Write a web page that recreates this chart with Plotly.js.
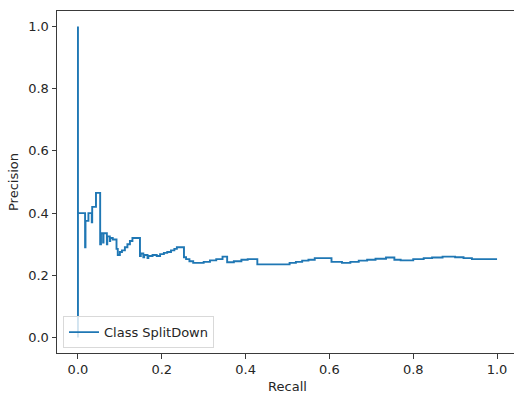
<!DOCTYPE html>
<html>
<head>
<meta charset="utf-8">
<script src="https://cdn.plot.ly/plotly-3.0.1.min.js"></script>
<style>
html,body{margin:0;padding:0;overflow:hidden;background:#fff;}
#chart{width:520px;height:394px;}
</style>
</head>
<body>
<div id="chart"></div>
<script>
const recall = [0, 0, 0.017, 0.018, 0.025, 0.033, 0.034, 0.043, 0.053, 0.055,
  0.060, 0.061, 0.069, 0.070, 0.076, 0.077, 0.083, 0.092, 0.095, 0.100,
  0.105, 0.112, 0.118, 0.124, 0.130, 0.148, 0.150, 0.156, 0.158, 0.166,
  0.168, 0.178, 0.188, 0.196, 0.205, 0.213, 0.222, 0.230, 0.236, 0.253,
  0.258, 0.266, 0.275, 0.300, 0.315, 0.330, 0.345, 0.356, 0.372, 0.390,
  0.405, 0.428, 0.505, 0.520, 0.535, 0.550, 0.565, 0.605, 0.630, 0.650,
  0.670, 0.690, 0.710, 0.735, 0.755, 0.770, 0.800, 0.825, 0.845, 0.870,
  0.900, 0.920, 0.940, 1.0];
const precision = [1.0, 0.0, 0.40, 0.29, 0.375, 0.40, 0.37, 0.42, 0.465, 0.30,
  0.335, 0.305, 0.335, 0.30, 0.325, 0.31, 0.32, 0.315, 0.285, 0.265,
  0.275, 0.28, 0.29, 0.30, 0.31, 0.32, 0.262, 0.27, 0.258, 0.265,
  0.255, 0.262, 0.265, 0.262, 0.268, 0.272, 0.275, 0.28, 0.285, 0.29,
  0.258, 0.252, 0.245, 0.24, 0.243, 0.248, 0.252, 0.26, 0.242, 0.245,
  0.25, 0.252, 0.235, 0.24, 0.243, 0.247, 0.25, 0.255, 0.243, 0.24,
  0.243, 0.247, 0.25, 0.253, 0.257, 0.25, 0.248, 0.252, 0.255, 0.257,
  0.26, 0.258, 0.255, 0.252];
const tickVals = [0.0, 0.2, 0.4, 0.6, 0.8, 1.0];
const tickText = ['0.0', '0.2', '0.4', '0.6', '0.8', '1.0'];
const seriesName = 'Class SplitDown';

const font = {family: 'DejaVu Sans, sans-serif', size: 13, color: '#262626'};
const axisCommon = {
  range: [-0.05, 1.05],
  tickvals: tickVals,
  ticktext: tickText,
  showgrid: false,
  zeroline: false,
  showline: true,
  mirror: true,
  linecolor: '#3a3a3a',
  linewidth: 1,
  ticks: 'outside',
  ticklen: 4.5,
  tickwidth: 1,
  tickcolor: '#3a3a3a',
  tickfont: font
};

Plotly.newPlot('chart', [{
  x: recall,
  y: precision,
  type: 'scatter',
  mode: 'lines',
  name: seriesName,
  line: {color: '#1f77b4', width: 1.9, shape: 'vh'}
}], {
  width: 520,
  height: 394,
  margin: {l: 57, r: 2, t: 11, b: 41},
  paper_bgcolor: '#fff',
  plot_bgcolor: '#fff',
  font: font,
  showlegend: true,
  legend: {
    x: 0.013, y: 0.014, xanchor: 'left', yanchor: 'bottom',
    bgcolor: 'rgba(255,255,255,0.8)',
    bordercolor: '#d9d9d9', borderwidth: 1,
    font: font,
    itemwidth: 30
  },
  xaxis: Object.assign({}, axisCommon, {
    title: {text: 'Recall', font: font, standoff: 6}
  }),
  yaxis: Object.assign({}, axisCommon, {
    title: {text: 'Precision', font: font, standoff: 6}
  })
}, {displayModeBar: false, staticPlot: true});
</script>
</body>
</html>
